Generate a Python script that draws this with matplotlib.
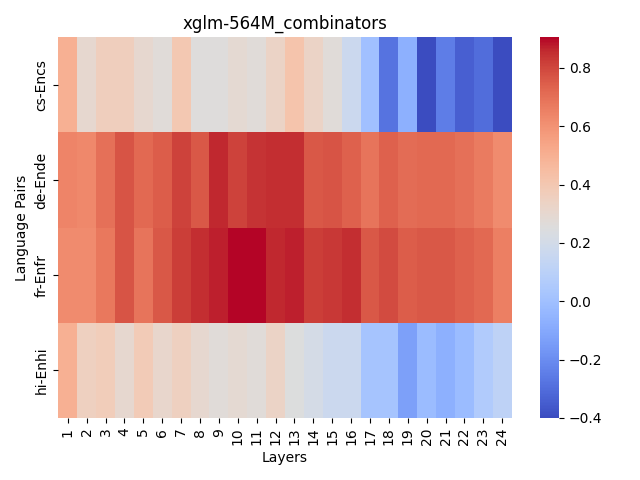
import matplotlib
matplotlib.use("Agg")
import matplotlib.pyplot as plt
import numpy as np
import pandas as pd
import seaborn as sns

language_pairs = ["cs-Encs", "de-Ende", "fr-Enfr", "hi-Enhi"]
layers = list(range(1, 25))

cs_encs = [0.50, 0.30, 0.36, 0.36, 0.30, 0.27, 0.40, 0.26, 0.26, 0.29, 0.27, 0.33,
           0.42, 0.33, 0.27, 0.17, 0.00, -0.28, -0.07, -0.40, -0.25, -0.34, -0.30, -0.40]
de_ende = [0.64, 0.63, 0.70, 0.77, 0.72, 0.75, 0.81, 0.76, 0.86, 0.81, 0.84, 0.85,
           0.85, 0.76, 0.77, 0.74, 0.69, 0.74, 0.71, 0.72, 0.72, 0.70, 0.67, 0.62]
fr_enfr = [0.62, 0.62, 0.68, 0.77, 0.69, 0.76, 0.82, 0.85, 0.87, 0.90, 0.905, 0.86,
           0.87, 0.82, 0.83, 0.85, 0.76, 0.79, 0.75, 0.76, 0.76, 0.74, 0.72, 0.66]
hi_enhi = [0.50, 0.35, 0.37, 0.30, 0.38, 0.31, 0.35, 0.30, 0.27, 0.29, 0.27, 0.33,
           0.25, 0.21, 0.17, 0.17, 0.02, 0.02, -0.13, -0.02, -0.07, -0.02, 0.06, 0.11]

df = pd.DataFrame([cs_encs, de_ende, fr_enfr, hi_enhi], index=language_pairs, columns=layers)

fig, ax = plt.subplots(figsize=(6.4, 4.8))
sns.heatmap(df, cmap="coolwarm", ax=ax)
ax.set_title("xglm-564M_combinators")
ax.set_xlabel("Layers")
ax.set_ylabel("Language Pairs")
plt.tight_layout()
fig.savefig("out.png", dpi=100)
